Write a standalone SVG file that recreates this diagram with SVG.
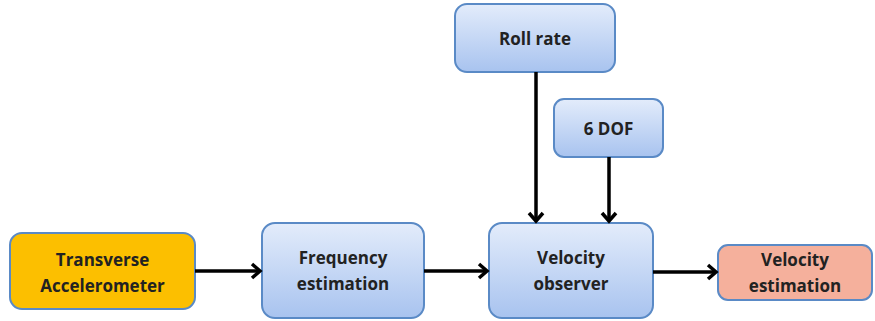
<svg xmlns="http://www.w3.org/2000/svg" width="875" height="321" viewBox="0 0 875 321">
<defs>
<linearGradient id="blue" x1="0" y1="0" x2="0" y2="1">
<stop offset="0" stop-color="#e3ecfb"/>
<stop offset="1" stop-color="#a8c3ef"/>
</linearGradient>
<marker id="arr" markerWidth="14" markerHeight="18" refX="11" refY="9" orient="auto" markerUnits="userSpaceOnUse">
<polyline points="3,2 11,9 3,16" fill="none" stroke="#000" stroke-width="3.5" stroke-linejoin="miter"/>
</marker>
</defs>
<style>
.b{fill:url(#blue);stroke:#5a8ac6;stroke-width:2}
.t{font-family:"Open Sans","Liberation Sans",sans-serif;font-weight:bold;font-size:17px;fill:#222;text-anchor:middle}
.c{stroke:#000;stroke-width:3.5;fill:none;marker-end:url(#arr)}
</style>
<rect width="875" height="321" fill="#fff"/>
<g id="transverse">
<rect x="10" y="233" width="185" height="76" rx="12" fill="#fcbf00" stroke="#5a8ac6" stroke-width="2"/>
<text class="t" x="102.5" y="266">Transverse</text>
<text class="t" x="102.5" y="292">Accelerometer</text>
</g>
<g id="frequency">
<rect class="b" x="262" y="223" width="162" height="95" rx="13"/>
<text class="t" x="343" y="264">Frequency</text>
<text class="t" x="343" y="290">estimation</text>
</g>
<g id="velocity-observer">
<rect class="b" x="489" y="223" width="164" height="95" rx="13"/>
<text class="t" x="571" y="264">Velocity</text>
<text class="t" x="571" y="290">observer</text>
</g>
<g id="roll-rate">
<rect class="b" x="455" y="4" width="160" height="68" rx="12"/>
<text class="t" x="535" y="45">Roll rate</text>
</g>
<g id="six-dof">
<rect class="b" x="554" y="99" width="109" height="58" rx="10"/>
<text class="t" x="608.5" y="135">6 DOF</text>
</g>
<g id="velocity-estimation">
<rect x="718" y="245" width="154" height="55" rx="10" fill="#f5b09c" stroke="#5a8ac6" stroke-width="2"/>
<text class="t" x="795" y="266">Velocity</text>
<text class="t" x="795" y="292">estimation</text>
</g>
<g id="connectors">
<line class="c" x1="195" y1="271" x2="260" y2="271"/>
<line class="c" x1="424" y1="271" x2="487" y2="271"/>
<line class="c" x1="653" y1="272" x2="716" y2="272"/>
<line class="c" x1="536" y1="72" x2="536" y2="221"/>
<line class="c" x1="609" y1="157" x2="609" y2="221"/>
</g>
</svg>
